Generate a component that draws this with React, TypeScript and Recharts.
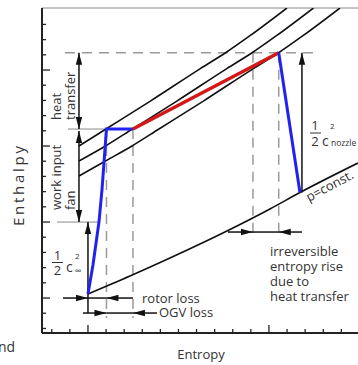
import { LineChart, Line, XAxis, YAxis, ReferenceLine } from 'recharts'

// axis ranges, in tick units (entropy s, enthalpy h)
const S_MIN = -2.54
const S_MAX = 14.92
const H_MIN = -2.3
const H_MAX = 19.08

const sTicks = [-2, -1, 0, 1, 2, 3, 4, 5, 6, 7, 8, 9, 10, 11, 12, 13, 14]
const hTicks = [-2, -1, 0, 1, 2, 3, 4, 5, 6, 7, 8, 9, 10, 11, 12, 13, 14, 15, 16, 17, 18]

// p = const. lines
const isobarHigh = [
  { s: -0.497, h: 10.0 },
  { s: 0.994, h: 11.118 },
  { s: 3.425, h: 12.941 },
  { s: 6.188, h: 15.079 },
  { s: 7.624, h: 16.151 },
  { s: 8.95, h: 17.257 },
  { s: 10.994, h: 19.08 },
]
const isobarMid = [
  { s: -0.497, h: 9.013 },
  { s: 0.967, h: 10.0 },
  { s: 2.459, h: 11.118 },
  { s: 4.889, h: 12.941 },
  { s: 7.652, h: 15.079 },
  { s: 9.088, h: 16.151 },
  { s: 10.414, h: 17.257 },
  { s: 12.458, h: 19.08 },
]
const isobarLow = [
  { s: -0.497, h: 8.026 },
  { s: 0.967, h: 9.013 },
  { s: 2.431, h: 10.0 },
  { s: 3.923, h: 11.118 },
  { s: 6.353, h: 12.941 },
  { s: 9.116, h: 15.079 },
  { s: 10.552, h: 16.151 },
  { s: 11.878, h: 17.257 },
  { s: 13.922, h: 19.08 },
]
const isobarAmbient = [
  { s: 0, h: 0.263 },
  { s: 2.32, h: 1.447 },
  { s: 4.53, h: 2.632 },
  { s: 7.68, h: 4.408 },
  { s: 10.055, h: 5.855 },
  { s: 11.713, h: 6.94 },
  { s: 14.92, h: 8.882 },
]

// process path
const fanPath = [
  { s: 0, h: 0.263 },
  { s: 0.276, h: 2.171 },
  { s: 0.608, h: 5.0 },
  { s: 0.773, h: 7.105 },
  { s: 1.022, h: 11.118 },
  { s: 2.486, h: 11.118 },
]
const heatPath = [
  { s: 2.486, h: 11.118 },
  { s: 10.54, h: 16.14 },
]
const nozzlePath = [
  { s: 10.54, h: 16.14 },
  { s: 11.713, h: 6.94 },
]

type Seg = { s1: number; h1: number; s2: number; h2: number; head?: 'end' | 'both' }

const dashedGuides: Seg[] = [
  { s1: -1.271, h1: 16.14, s2: 12.707, h2: 16.14 },
  { s1: 1.022, h1: 11.118, s2: 1.022, h2: -1.316 },
  { s1: 2.486, h1: 11.118, s2: 2.486, h2: -1.316 },
  { s1: 9.116, h1: 16.14, s2: 9.116, h2: 3.816 },
  { s1: 10.54, h1: 16.14, s2: 10.54, h2: 3.816 },
]
const extLines: Seg[] = [
  { s1: -1.105, h1: 11.118, s2: 1.022, h2: 11.118 },
  { s1: -1.713, h1: 5.0, s2: 0.663, h2: 5.0 },
]
const arrows: Seg[] = [
  { s1: -0.497, h1: 11.118, s2: -0.497, h2: 16.14, head: 'both' },
  { s1: -0.497, h1: 10.99, s2: -0.497, h2: 5.0, head: 'both' },
  { s1: 0, h1: -0.987, s2: 0, h2: 5.0, head: 'end' },
  { s1: 11.823, h1: 6.94, s2: 11.823, h2: 16.14, head: 'end' },
  // rotor loss
  { s1: -1.381, h1: 0, s2: 0, h2: 0, head: 'end' },
  { s1: 2.486, h1: 0, s2: 1.022, h2: 0, head: 'end' },
  { s1: 0, h1: 0, s2: 1.022, h2: 0 },
  // OGV loss
  { s1: -0.276, h1: -0.987, s2: 1.022, h2: -0.987, head: 'end' },
  { s1: 3.812, h1: -0.987, s2: 2.486, h2: -0.987, head: 'end' },
  { s1: 1.022, h1: -0.987, s2: 2.486, h2: -0.987 },
  // irreversible entropy rise
  { s1: 7.735, h1: 4.342, s2: 9.116, h2: 4.342, head: 'end' },
  { s1: 11.823, h1: 4.342, s2: 10.54, h2: 4.342, head: 'end' },
  { s1: 9.116, h1: 4.342, s2: 10.54, h2: 4.342 },
]

const FONT = '"Open Sans", sans-serif'
const TEXT = '#333'

function head(xt: number, yt: number, xf: number, yf: number) {
  const a = Math.atan2(yt - yf, xt - xf)
  const len = 12
  const w = 3.2
  const bx = xt - len * Math.cos(a)
  const by = yt - len * Math.sin(a)
  const px = -Math.sin(a) * w
  const py = Math.cos(a) * w
  return `${xt},${yt} ${bx + px},${by + py} ${bx - px},${by - py}`
}

function ArrowShape(props: any) {
  const { x1, y1, x2, y2, mode } = props
  return (
    <g>
      <line x1={x1} y1={y1} x2={x2} y2={y2} stroke="#111" strokeWidth={1.5} />
      {mode && <polygon points={head(x2, y2, x1, y1)} fill="#111" />}
      {mode === 'both' && <polygon points={head(x1, y1, x2, y2)} fill="#111" />}
    </g>
  )
}

function XTick(props: any) {
  const { x, y, payload } = props
  const len = payload.value % 10 === 0 ? 8 : 4
  return <line x1={x} y1={y} x2={x} y2={y - len} stroke="#222" strokeWidth={1.3} />
}

function YTick(props: any) {
  const { x, y, payload } = props
  const len = payload.value % 5 === 0 ? 8 : 4
  return <line x1={x} y1={y} x2={x + len} y2={y} stroke="#222" strokeWidth={1.3} />
}

export default function App() {
  return (
    <div style={{ position: 'absolute', left: 0, top: 0, width: 358, height: 365, overflow: 'hidden', background: '#fff' }}>
      <LineChart width={358} height={365} margin={{ top: 8, right: 0, bottom: 31, left: 41 }}>
        <XAxis
          type="number"
          dataKey="s"
          domain={[S_MIN, S_MAX]}
          allowDataOverflow
          ticks={sTicks}
          interval={0}
          tickSize={0}
          tickMargin={0}
          height={1}
          axisLine={{ stroke: '#222', strokeWidth: 2 }}
          tickLine={false}
          tick={<XTick />}
        />
        <YAxis
          type="number"
          domain={[H_MIN, H_MAX]}
          allowDataOverflow
          ticks={hTicks}
          interval={0}
          tickSize={0}
          tickMargin={0}
          width={1}
          axisLine={{ stroke: '#222', strokeWidth: 2 }}
          tickLine={false}
          tick={<YTick />}
        />
        <ReferenceLine y={H_MAX} stroke="#888" strokeWidth={1} ifOverflow="visible" />

        {dashedGuides.map((g, i) => (
          <ReferenceLine
            key={'d' + i}
            segment={[{ x: g.s1, y: g.h1 }, { x: g.s2, y: g.h2 }]}
            stroke="#9a9a9a"
            strokeWidth={1.5}
            strokeDasharray="10 7"
            ifOverflow="visible"
          />
        ))}
        {extLines.map((g, i) => (
          <ReferenceLine
            key={'e' + i}
            segment={[{ x: g.s1, y: g.h1 }, { x: g.s2, y: g.h2 }]}
            stroke="#8a8a8a"
            strokeWidth={1}
            ifOverflow="visible"
          />
        ))}

        <Line data={isobarHigh} dataKey="h" type="monotone" stroke="#111" strokeWidth={1.6} dot={false} activeDot={false} isAnimationActive={false} />
        <Line data={isobarMid} dataKey="h" type="monotone" stroke="#111" strokeWidth={1.6} dot={false} activeDot={false} isAnimationActive={false} />
        <Line data={isobarLow} dataKey="h" type="monotone" stroke="#111" strokeWidth={1.6} dot={false} activeDot={false} isAnimationActive={false} />
        <Line data={isobarAmbient} dataKey="h" type="monotone" stroke="#111" strokeWidth={1.6} dot={false} activeDot={false} isAnimationActive={false} />

        {arrows.map((a, i) => (
          <ReferenceLine
            key={'a' + i}
            segment={[{ x: a.s1, y: a.h1 }, { x: a.s2, y: a.h2 }]}
            ifOverflow="visible"
            shape={(p: any) => <ArrowShape {...p} mode={a.head} />}
          />
        ))}

        <Line data={fanPath} dataKey="h" type="linear" stroke="#2222ee" strokeWidth={3} dot={false} activeDot={false} isAnimationActive={false} />
        <Line data={heatPath} dataKey="h" type="linear" stroke="#d41818" strokeWidth={3.5} dot={false} activeDot={false} isAnimationActive={false} />
        <Line data={nozzlePath} dataKey="h" type="linear" stroke="#2222ee" strokeWidth={3} dot={false} activeDot={false} isAnimationActive={false} />
      </LineChart>

      <svg
        width={358}
        height={365}
        style={{ position: 'absolute', left: 0, top: 0, pointerEvents: 'none' }}
        fontFamily={FONT}
        fill={TEXT}
      >
        <text transform="translate(24,186) rotate(-90)" textAnchor="middle" fontSize={15} textLength={80} lengthAdjust="spacing">
          Enthalpy
        </text>
        <text x={201} y={359} textAnchor="middle" fontSize={13}>Entropy</text>
        <text x={-2} y={352} fontSize={14}>nd</text>

        <text transform="translate(61,120) rotate(-90)" fontSize={13}>heat</text>
        <text transform="translate(75,120) rotate(-90)" fontSize={13}>transfer</text>
        <text transform="translate(61,210) rotate(-90)" fontSize={13}>work input</text>
        <text transform="translate(75,210) rotate(-90)" fontSize={13}>fan</text>

        <text x={57.5} y={260} textAnchor="middle" fontSize={13}>1</text>
        <line x1={52} x2={63} y1={262.5} y2={262.5} stroke={TEXT} strokeWidth={1} />
        <text x={57.5} y={275} textAnchor="middle" fontSize={13}>2</text>
        <text x={66} y={272} fontSize={14}>c</text>
        <text x={75} y={259} fontSize={8}>2</text>
        <text x={75} y={274} fontSize={9}>∞</text>

        <text x={315} y={130} textAnchor="middle" fontSize={13}>1</text>
        <line x1={310} x2={321} y1={133} y2={133} stroke={TEXT} strokeWidth={1} />
        <text x={315} y={146} textAnchor="middle" fontSize={13}>2</text>
        <text x={322} y={146} fontSize={14}>c</text>
        <text x={330} y={129} fontSize={8}>2</text>
        <text x={331} y={146} fontSize={8.5}>nozzle</text>

        <text transform="translate(309,202) rotate(-28)" fontSize={13}>p=const.</text>

        <text x={270} y={256} fontSize={13}>irreversible</text>
        <text x={270} y={271} fontSize={13}>entropy rise</text>
        <text x={270} y={286} fontSize={13}>due to</text>
        <text x={270} y={301} fontSize={13}>heat transfer</text>

        <text x={142} y={303} fontSize={13}>rotor loss</text>
        <text x={159} y={317} fontSize={13}>OGV loss</text>
      </svg>
    </div>
  )
}
